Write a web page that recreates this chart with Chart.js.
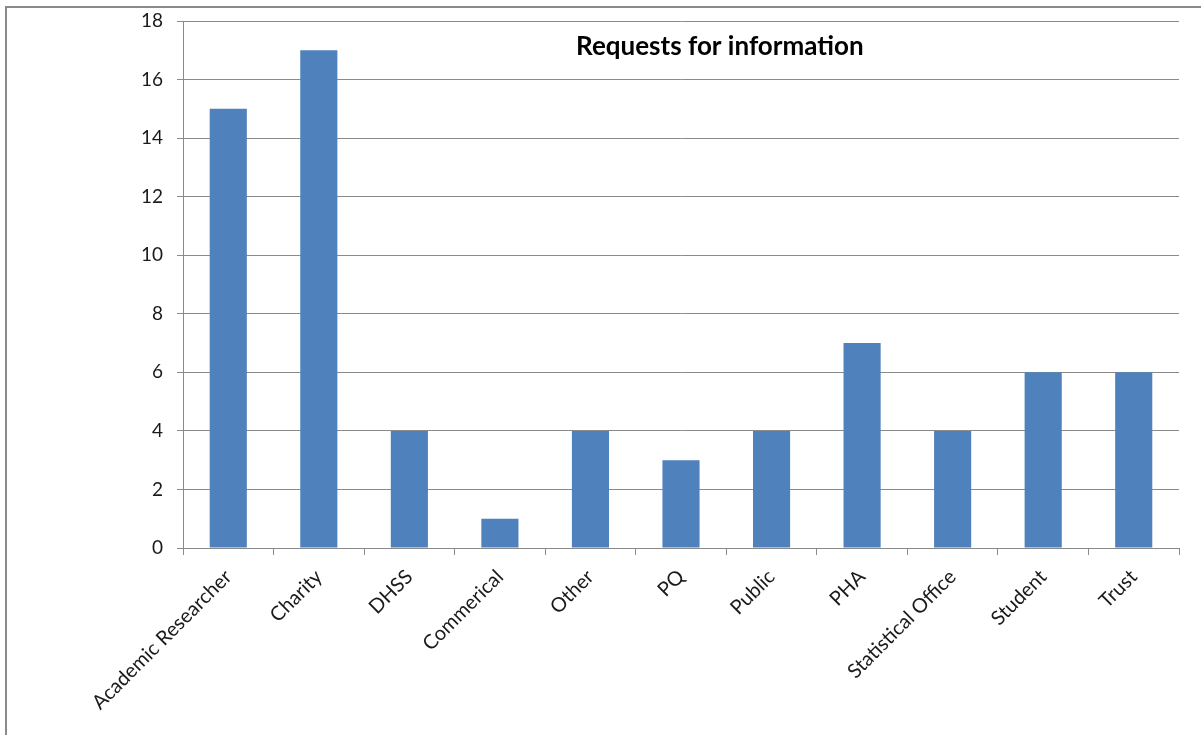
<!DOCTYPE html>
<html>
<head>
<meta charset="utf-8">
<script src="https://cdn.jsdelivr.net/npm/chart.js@4/dist/chart.umd.min.js"></script>
<style>
  html, body { margin: 0; padding: 0; background: #fff; }
  #wrap { position: relative; width: 1201px; height: 735px; overflow: hidden; }
  #frame { position: absolute; left: 5px; top: 6px; width: 1300px; height: 800px;
           border-left: 2px solid #8a8a8a; border-top: 2px solid #8a8a8a; }
  canvas { position: absolute; left: 0; top: 0; }
</style>
</head>
<body>
<div id="wrap">
  <div id="frame"></div>
  <canvas id="c" width="1201" height="735"></canvas>
</div>
<script>
const chartTitle = "Requests for information";
const categories = ["Academic Researcher", "Charity", "DHSS", "Commerical", "Other", "PQ", "Public", "PHA", "Statistical Office", "Student", "Trust"];
const requests = [15, 17, 4, 1, 4, 3, 4, 7, 4, 6, 6];
const yTicks = [0, 2, 4, 6, 8, 10, 12, 14, 16, 18];

const FONT = "Lato, 'Open Sans', sans-serif";

const titlePlugin = {
  id: 'insideTitle',
  afterDraw(chart) {
    const ctx = chart.ctx;
    const a = chart.chartArea;
    ctx.save();
    ctx.font = "bold 26px " + FONT;
    ctx.fillStyle = "#000";
    ctx.textAlign = "center";
    ctx.textBaseline = "alphabetic";
    ctx.fillText(chartTitle, a.left + (a.right - a.left) * 0.539, a.top + 34);
    ctx.restore();
  }
};

new Chart(document.getElementById('c'), {
  type: 'bar',
  data: {
    labels: categories,
    datasets: [{
      label: chartTitle,
      data: requests,
      backgroundColor: '#4F81BD',
      borderWidth: 0,
      categoryPercentage: 1,
      barPercentage: 0.41
    }]
  },
  options: {
    responsive: false,
    animation: false,
    devicePixelRatio: 1,
    layout: { padding: { top: 21, right: 22, left: 0, bottom: 0 } },
    plugins: { legend: { display: false }, tooltip: { enabled: false }, title: { display: false } },
    scales: {
      x: {
        offset: true,
        grid: { display: true, drawOnChartArea: false, offset: true, tickLength: 7, color: '#8a8a8a', lineWidth: 1 },
        border: { color: '#8a8a8a', width: 1 },
        ticks: { minRotation: 45, maxRotation: 45, autoSkip: false, padding: 10, color: '#1a1a1a', font: { family: FONT, size: 20 } },
        afterFit(scale) { scale.height = 187; scale.paddingLeft = 0; scale.paddingRight = 0; }
      },
      y: {
        min: 0, max: 18,
        afterBuildTicks(scale) { scale.ticks = yTicks.map(v => ({ value: v })); },
        grid: { color: '#8a8a8a', lineWidth: 1, tickLength: 6 },
        border: { color: '#8a8a8a', width: 1 },
        ticks: { padding: 14, color: '#1a1a1a', font: { family: FONT, size: 19 } },
        afterFit(scale) { scale.width = 183; scale.paddingTop = 0; scale.paddingBottom = 0; }
      }
    }
  },
  plugins: [titlePlugin]
});
</script>
</body>
</html>
